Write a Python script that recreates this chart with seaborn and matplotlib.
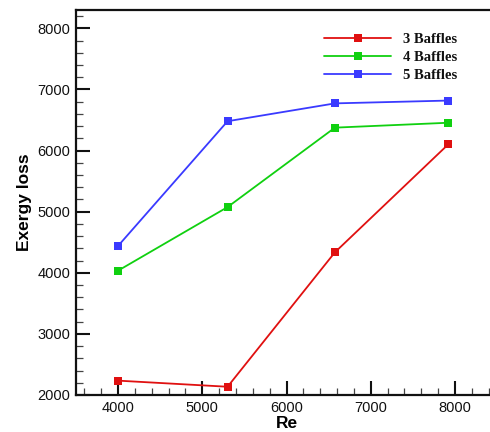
import matplotlib
matplotlib.use("Agg")
import matplotlib.pyplot as plt
import seaborn as sns
import pandas as pd
from matplotlib.ticker import MultipleLocator

re_values = [4000, 5300, 6575, 7920]
baffles3 = [2235, 2135, 4335, 6100]
baffles4 = [4035, 5075, 6375, 6455]
baffles5 = [4440, 6480, 6772, 6818]
series_names = ["3 Baffles", "4 Baffles", "5 Baffles"]
colors = ["#e01010", "#10d010", "#3a3aff"]

df = pd.DataFrame({
    "Re": re_values * 3,
    "Exergy loss": baffles3 + baffles4 + baffles5,
    "series": [series_names[0]] * 4 + [series_names[1]] * 4 + [series_names[2]] * 4,
})

sns.set_style("white")
plt.rcParams["font.family"] = ["Liberation Sans", "DejaVu Sans"]

fig = plt.figure(figsize=(4.9, 4.32), dpi=100)
ax = fig.add_axes([76 / 490, 37 / 432, 421 / 490, 385 / 432])

sns.lineplot(data=df, x="Re", y="Exergy loss", hue="series", style="series",
             markers=["s", "s", "s"], dashes=False, palette=colors,
             markersize=5.5, markeredgewidth=0, linewidth=1.3, ax=ax)

ax.set_xlim(3500, 8500)
ax.set_ylim(2000, 8300)
ax.xaxis.set_major_locator(MultipleLocator(1000))
ax.xaxis.set_minor_locator(MultipleLocator(200))
ax.yaxis.set_major_locator(MultipleLocator(1000))
ax.yaxis.set_minor_locator(MultipleLocator(200))
ax.tick_params(which="major", direction="in", length=10, width=1.5, color="#111111",
               labelsize=10.5, labelcolor="#111111", pad=4,
               bottom=True, left=True, top=False, right=False)
ax.tick_params(which="minor", direction="in", length=5, width=0.9, color="#444444",
               bottom=True, left=True, top=False, right=False)
for s in ax.spines.values():
    s.set_linewidth(1.6)
    s.set_color("#111111")

ax.set_xlabel("Re", fontsize=12.5, fontweight="bold", labelpad=1, color="black")
ax.set_ylabel("Exergy loss", fontsize=12.5, fontweight="bold", labelpad=4, color="black")

leg = ax.legend(loc="upper left", bbox_to_anchor=(324 / 490, 1 - 33 / 432),
                bbox_transform=fig.transFigure, frameon=False, handlelength=4.6,
                handletextpad=0.8, labelspacing=0.32, borderpad=0, borderaxespad=0,
                prop={"family": "Liberation Serif", "weight": "bold", "size": 10.5})
for t in leg.get_texts():
    t.set_color("#111111")

fig.savefig("out.png", dpi=100)
